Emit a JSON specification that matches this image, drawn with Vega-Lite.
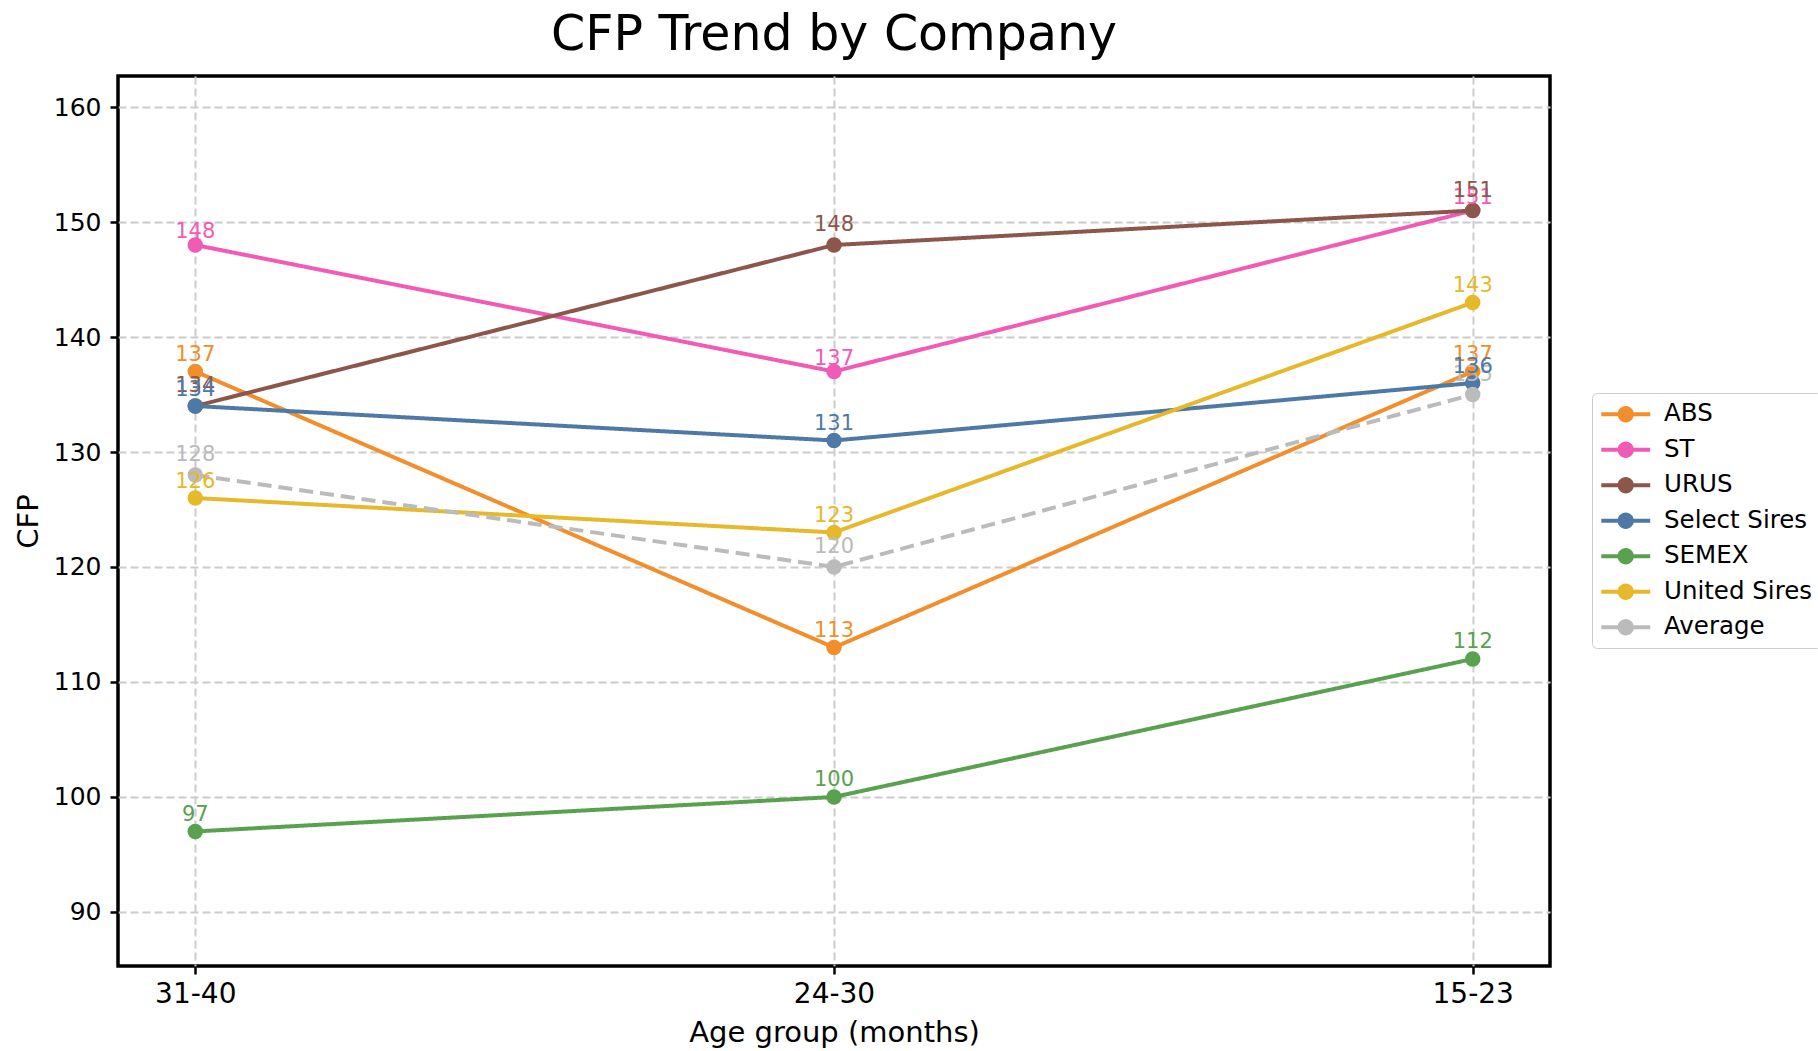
{
  "$schema": "https://vega.github.io/schema/vega-lite/v6.json",
  "width": 1432,
  "height": 890,
  "autosize": {"type": "none"},
  "padding": {"left": 118, "top": 76, "right": 268, "bottom": 85},
  "background": "white",
  "title": {"text": "CFP Trend by Company", "fontSize": 49, "fontWeight": "normal", "font": "DejaVu Sans", "color": "black", "anchor": "middle", "offset": 16},
  "data": {"values": [
    {"company": "ABS", "age": "31-40", "cfp": 137},
    {"company": "ABS", "age": "24-30", "cfp": 113},
    {"company": "ABS", "age": "15-23", "cfp": 137},
    {"company": "ST", "age": "31-40", "cfp": 148},
    {"company": "ST", "age": "24-30", "cfp": 137},
    {"company": "ST", "age": "15-23", "cfp": 151},
    {"company": "URUS", "age": "31-40", "cfp": 134},
    {"company": "URUS", "age": "24-30", "cfp": 148},
    {"company": "URUS", "age": "15-23", "cfp": 151},
    {"company": "Select Sires", "age": "31-40", "cfp": 134},
    {"company": "Select Sires", "age": "24-30", "cfp": 131},
    {"company": "Select Sires", "age": "15-23", "cfp": 136},
    {"company": "SEMEX", "age": "31-40", "cfp": 97},
    {"company": "SEMEX", "age": "24-30", "cfp": 100},
    {"company": "SEMEX", "age": "15-23", "cfp": 112},
    {"company": "United Sires", "age": "31-40", "cfp": 126},
    {"company": "United Sires", "age": "24-30", "cfp": 123},
    {"company": "United Sires", "age": "15-23", "cfp": 143},
    {"company": "Average", "age": "31-40", "cfp": 128},
    {"company": "Average", "age": "24-30", "cfp": 120},
    {"company": "Average", "age": "15-23", "cfp": 135}
  ]},
  "encoding": {
    "x": {
      "field": "age", "type": "ordinal", "sort": ["31-40", "24-30", "15-23"],
      "scale": {"type": "point", "padding": 0.121},
      "axis": {"title": "Age group (months)", "labelAngle": 0, "labelFontSize": 28, "labelPadding": 6, "titlePadding": 10}
    },
    "y": {
      "field": "cfp", "type": "quantitative",
      "scale": {"domain": [85.3, 162.7], "nice": false, "zero": false},
      "axis": {"title": "CFP", "values": [90, 100, 110, 120, 130, 140, 150, 160], "labelFontSize": 25, "labelPadding": 9, "titlePadding": 10}
    },
    "color": {
      "field": "company", "type": "nominal",
      "sort": ["ABS", "ST", "URUS", "Select Sires", "SEMEX", "United Sires", "Average"],
      "scale": {
        "domain": ["ABS", "ST", "URUS", "Select Sires", "SEMEX", "United Sires", "Average"],
        "range": ["#f28e2b", "#f15bb5", "#8c564b", "#4e79a7", "#59a14f", "#e6b92a", "#bbbbbb"]
      },
      "legend": {
        "title": null, "orient": "none", "legendX": 1474, "legendY": 317,
        "symbolType": "M-2.04,-0.17H2.04V0.17H-2.04Z M0.68,0A0.68,0.68,0,1,1,-0.68,0A0.68,0.68,0,1,1,0.68,0Z",
        "symbolSize": 576, "symbolOffset": 12.5, "labelOffset": 26,
        "labelFontSize": 24.5, "labelColor": "black", "labelFont": "DejaVu Sans",
        "rowPadding": 10.5, "padding": 9,
        "strokeColor": "#cccccc", "cornerRadius": 5, "fillColor": "white",
        "symbolStrokeWidth": 0,
        "encode": {"symbols": {"update": {"fill": {"scale": "color", "field": "value"}, "opacity": {"value": 1}}}}
      }
    }
  },
  "layer": [
    {
      "mark": {"type": "line", "strokeWidth": 4},
      "encoding": {
        "strokeDash": {
          "field": "company", "type": "nominal",
          "scale": {
            "domain": ["ABS", "ST", "URUS", "Select Sires", "SEMEX", "United Sires", "Average"],
            "range": [[1, 0], [1, 0], [1, 0], [1, 0], [1, 0], [1, 0], [14, 7]]
          },
          "legend": null
        }
      }
    },
    {"mark": {"type": "point", "filled": true, "size": 240, "opacity": 1}},
    {
      "transform": [{"filter": "datum.company === 'ST'"}],
      "mark": {"type": "text", "dy": -7, "fontSize": 21, "baseline": "alphabetic", "align": "center"},
      "encoding": {"text": {"field": "cfp", "type": "quantitative"}}
    },
    {
      "transform": [{"filter": "datum.company === 'URUS' || datum.company === 'Average'"}],
      "mark": {"type": "text", "dy": -14, "fontSize": 21, "baseline": "alphabetic", "align": "center"},
      "encoding": {"text": {"field": "cfp", "type": "quantitative"}}
    },
    {
      "transform": [{"filter": "datum.company !== 'ST' && datum.company !== 'URUS' && datum.company !== 'Average'"}],
      "mark": {"type": "text", "dy": -10.5, "fontSize": 21, "baseline": "alphabetic", "align": "center"},
      "encoding": {"text": {"field": "cfp", "type": "quantitative"}}
    }
  ],
  "config": {
    "font": "DejaVu Sans",
    "view": {"stroke": "black", "strokeWidth": 3.5},
    "axis": {
      "grid": true, "gridColor": "#cccccc", "gridDash": [8, 4], "gridWidth": 2,
      "domain": false, "tickColor": "black", "tickWidth": 2.5, "tickSize": 8,
      "labelColor": "black", "labelFont": "DejaVu Sans",
      "titleFontSize": 29, "titleFontWeight": "normal", "titleColor": "black", "titleFont": "DejaVu Sans"
    },
    "text": {"font": "DejaVu Sans"}
  }
}
